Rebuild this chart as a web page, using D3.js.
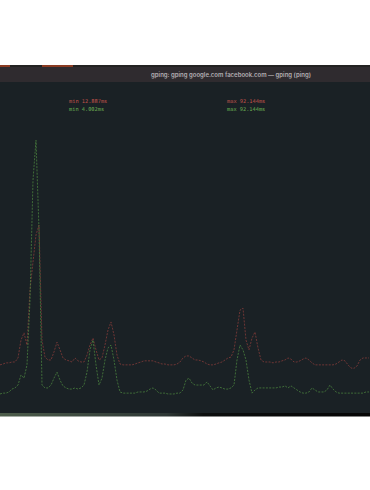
<!DOCTYPE html>
<html>
<head>
<meta charset="utf-8">
<script src="https://cdn.jsdelivr.net/npm/d3@7"></script>
<style>
  html, body { margin: 0; padding: 0; background: #fff; }
  svg { display: block; }
</style>
</head>
<body>
<svg id="chart" width="370" height="490"></svg>
<script>
// ping samples, one per tick (ms)
const hosts = ["google.com", "facebook.com"]

const googleMs = [
  14.1, 14.4, 14.8, 14.8, 15.1, 15.1, 16.5, 22.7, 25.2, 21.0,
  40.1, 49.8, 59.2, 62.6, 22.7, 16.8, 15.8, 15.8, 18.6, 22.0,
  19.3, 16.5, 15.8, 15.5, 15.1, 16.5, 15.5, 15.1, 15.1, 17.5,
  21.0, 23.4, 19.3, 15.8, 16.5, 21.0, 26.2, 29.0, 24.5, 17.5,
  14.4, 14.1, 14.1, 14.1, 14.1, 14.4, 14.8, 15.1, 15.5, 15.5,
  15.5, 15.5, 15.1, 14.8, 14.4, 14.4, 14.1, 14.1, 14.1, 14.4,
  15.1, 16.5, 17.2, 17.2, 16.5, 15.8, 15.8, 15.5, 15.1, 14.4,
  14.1, 14.1, 14.4, 14.8, 15.1, 15.8, 16.5, 16.8, 19.3, 26.2,
  33.1, 33.8, 22.7, 19.3, 23.4, 25.5, 20.0, 15.8, 15.1, 15.1,
  15.1, 14.8, 15.1, 15.1, 15.5, 15.8, 16.5, 16.1, 15.1, 15.1,
  15.5, 16.1, 16.5, 15.8, 14.8, 14.1, 14.1, 14.1, 14.1, 14.1,
  14.1, 14.1, 14.4, 15.1, 15.8, 15.5, 14.1, 13.0, 12.9, 13.7,
  15.8, 16.5, 16.5, 16.5
]

const facebookMs = [
  4.0, 4.3, 4.3, 4.7, 5.7, 6.1, 7.1, 10.6, 9.5, 14.1,
  36.6, 78.2, 92.1, 60.9, 7.1, 6.1, 6.1, 7.1, 9.5, 11.6,
  8.8, 6.8, 6.1, 5.7, 5.7, 6.1, 5.7, 6.1, 7.1, 11.6,
  19.3, 22.7, 14.1, 7.1, 9.5, 15.8, 20.0, 21.0, 15.8, 8.8,
  4.7, 4.3, 4.3, 4.3, 4.3, 4.3, 4.7, 4.7, 4.7, 5.0,
  5.7, 6.1, 5.4, 4.3, 4.3, 4.3, 4.0, 4.0, 4.0, 4.3,
  4.3, 5.4, 8.8, 9.5, 7.8, 7.1, 7.1, 7.1, 7.1, 8.2,
  6.8, 5.4, 6.1, 6.4, 6.1, 5.7, 5.7, 6.1, 7.1, 15.8,
  21.0, 19.3, 15.8, 8.8, 4.3, 5.4, 6.1, 6.1, 6.1, 6.1,
  6.1, 6.1, 6.1, 6.4, 6.4, 6.8, 6.1, 6.8, 6.1, 5.4,
  4.7, 4.3, 4.3, 4.7, 6.1, 5.4, 4.7, 4.7, 4.7, 5.4,
  7.1, 5.7, 4.7, 4.3, 4.3, 4.3, 4.3, 4.3, 4.3, 4.3,
  4.3, 4.3, 4.7, 4.7
]

const legendMin = ["min 12.887ms", "min 4.002ms"]
const legendMax = ["max 92.144ms", "max 92.144ms"]

const title = "gping: gping google.com facebook.com \u2014 gping (ping)"

const colors = ["#8e3d3a", "#4e8a40"]
const textColors = ["#c4524b", "#6cb153"]

const svg = d3.select("#chart")

// window chrome
svg.append("rect").attr("x", 0).attr("y", 65).attr("width", 370).attr("height", 2).attr("fill", "#232222")
svg.append("rect").attr("x", 0).attr("y", 65).attr("width", 10).attr("height", 2).attr("fill", "#8a3b22")
svg.append("rect").attr("x", 42).attr("y", 65).attr("width", 31).attr("height", 2).attr("fill", "#8a3b22")

svg.append("rect")
    .attr("x", 0).attr("y", 67)
    .attr("width", 370).attr("height", 15)
    .attr("fill", "#2f2b2f")

svg.append("text")
    .attr("x", 231).attr("y", 77.2)
    .attr("text-anchor", "middle")
    .attr("font-family", "Inter, 'Open Sans', sans-serif")
    .attr("font-size", 6.0)
    .attr("font-weight", 600)
    .attr("fill", "#b3afb3")
    .text(title)

// terminal body
svg.append("rect")
    .attr("x", 0).attr("y", 82)
    .attr("width", 370).attr("height", 331)
    .attr("fill", "#1a2125")

const grad = svg.append("defs").append("linearGradient").attr("id", "edge")
grad.append("stop").attr("offset", "0%").attr("stop-color", "#4d5d4b")
grad.append("stop").attr("offset", "45%").attr("stop-color", "#2e3735")
grad.append("stop").attr("offset", "55%").attr("stop-color", "#0c0e0e")
grad.append("stop").attr("offset", "100%").attr("stop-color", "#050505")

svg.append("rect")
    .attr("x", 0).attr("y", 413)
    .attr("width", 370).attr("height", 3.5)
    .attr("fill", "url(#edge)")

// scales
const x = d3.scaleLinear()
    .domain([0, googleMs.length - 1])
    .range([0, 369])

const y = d3.scaleLinear()
    .domain([0, 92.144])
    .range([405.5, 140])

const line = d3.line()
    .x((d, i) => x(i))
    .y(d => y(d))

const series = [googleMs, facebookMs]

svg.append("g")
  .selectAll("path")
  .data(series)
  .enter()
  .append("path")
    .attr("d", d => line(d))
    .attr("fill", "none")
    .attr("stroke", (d, i) => colors[i])
    .attr("stroke-width", 0.9)
    .attr("stroke-dasharray", "2,1.3")
    .attr("stroke-opacity", 0.8)

// legend
const legend = svg.append("g")
    .attr("font-family", "'DejaVu Sans Mono', monospace")
    .attr("font-size", 5.3)

legend.selectAll("text.min")
  .data(legendMin)
  .enter()
  .append("text")
    .attr("class", "min")
    .attr("x", 69)
    .attr("y", (d, i) => 103 + i * 8)
    .attr("fill", (d, i) => textColors[i])
    .text(d => d)

legend.selectAll("text.max")
  .data(legendMax)
  .enter()
  .append("text")
    .attr("class", "max")
    .attr("x", 227)
    .attr("y", (d, i) => 103 + i * 8)
    .attr("fill", (d, i) => textColors[i])
    .text(d => d)
</script>
</body>
</html>
